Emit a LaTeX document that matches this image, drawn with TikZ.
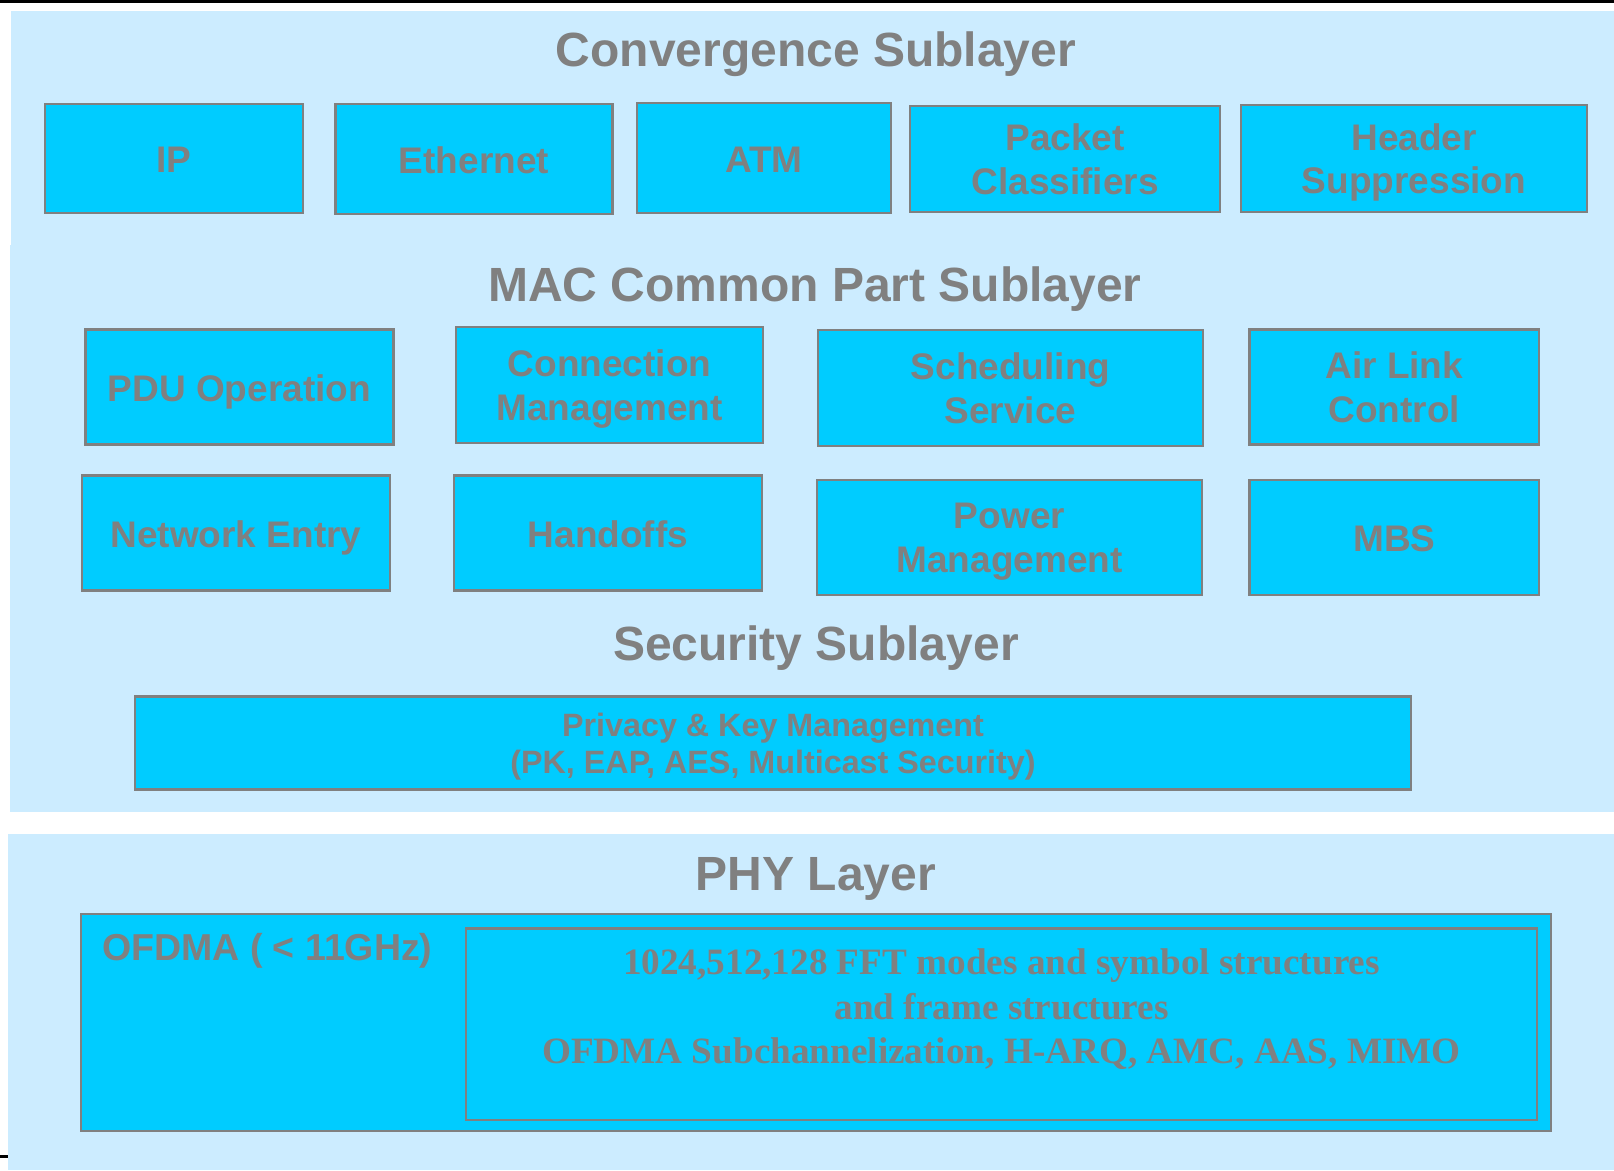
\documentclass[tikz,border=0pt]{standalone}
\usepackage{fontspec}
\setmainfont{Liberation Sans}
\newfontfamily\serifbold{Liberation Serif}
\definecolor{panel}{HTML}{CCECFF}
\definecolor{boxfill}{HTML}{00CCFF}
\definecolor{txtgray}{HTML}{808080}
\begin{document}
\begin{tikzpicture}[x=1pt,y=-1pt,
  box/.style={draw=txtgray, fill=boxfill, line width=2.5pt, inner sep=0pt},
  boxtext/.style={text=txtgray, inner sep=0pt, align=center, yshift=-1.2pt,
    font=\fontsize{37}{43.5}\selectfont\bfseries,
    execute at begin node={\rule{0pt}{33.5pt}},
    execute at end node={\rule[-7.8pt]{0pt}{7.8pt}}},
  boxtwo/.style={boxtext, yshift=-3pt},
  titletext/.style={text=txtgray, inner sep=0pt, font=\fontsize{48}{57}\selectfont\bfseries},
  sectext/.style={text=txtgray, inner sep=0pt, align=center, font=\fontsize{32.3}{37}\selectfont\bfseries},
  phytext/.style={text=txtgray, inner sep=0pt, align=center, font=\fontsize{37.2}{44.5}\selectfont\serifbold\bfseries}
]
\useasboundingbox (0,0) rectangle (1614,1170);
\fill[white] (0,0) rectangle (1614,1170);
% panels
\fill[panel] (11,11) rectangle (1614,245);
\fill[panel] (10,245) rectangle (1614,812);
\fill[panel] (8,834) rectangle (1614,1170);
% black rules
\draw[black, line width=3pt] (0,1.3) -- (1614,1.3);
\draw[black, line width=3pt] (0,1156.5) -- (8,1156.5);

% titles
\node[titletext] (tconv) at (816,54) {Convergence Sublayer};
\node[titletext] (tmac) at (815,289) {MAC Common Part Sublayer};
\node[titletext] (tsec) at (816,648) {Security Sublayer};
\node[titletext] (tphy) at (816,879) {PHY Layer};

% convergence boxes
\node[box, minimum width=258, minimum height=109, label={[boxtext]center:IP}] (ip) at (174,158.5) {};
\node[box, minimum width=277, minimum height=110, label={[boxtext]center:Ethernet}] (eth) at (474,159) {};
\node[box, minimum width=254, minimum height=110, label={[boxtext]center:ATM}] (atm) at (764,158) {};
\node[box, minimum width=310, minimum height=106, label={[boxtwo]center:{Packet\\Classifiers}}] (pc) at (1065,159) {};
\node[box, minimum width=346, minimum height=107, label={[boxtwo]center:{Header\\Suppression}}] (hs) at (1414,158.5) {};

% MAC boxes
\node[box, minimum width=308, minimum height=115, label={[boxtext]center:PDU Operation}] (pdu) at (239.3,387) {};
\node[box, minimum width=307, minimum height=115.6, label={[boxtwo]center:{Connection\\Management}}] (cm) at (609.5,385) {};
\node[box, minimum width=385, minimum height=115.7, label={[boxtwo]center:{Scheduling\\Service}}] (ss) at (1010.5,388) {};
\node[box, minimum width=289.4, minimum height=115.3, label={[boxtwo]center:{Air Link\\Control}}] (alc) at (1394.3,387) {};
\node[box, minimum width=308, minimum height=115, label={[boxtext]center:Network Entry}] (ne) at (236,533) {};
\node[box, minimum width=307.7, minimum height=115, label={[boxtext]center:Handoffs}] (ho) at (608,533) {};
\node[box, minimum width=385, minimum height=115, label={[boxtwo]center:{Power\\Management}}] (pm) at (1009.5,537.4) {};
\node[box, minimum width=289.4, minimum height=115, label={[boxtext]center:MBS}] (mbs) at (1394.3,537.4) {};

% security box
\node[box, minimum width=1276, minimum height=93] (sec) at (773,743) {};
\node[sectext] (sect) at (773,747) {Privacy \& Key Management\\(PK, EAP, AES, Multicast Security)};

% PHY boxes
\node[box, minimum width=1470, minimum height=217] (phyo) at (816,1022.5) {};
\node[box, minimum width=1071, minimum height=191.5] (phyi) at (1001.5,1024) {};
\node[text=txtgray, inner sep=0pt, anchor=west, font=\fontsize{37.5}{44}\selectfont\bfseries] (ofdma) at (102,951) {OFDMA ( < 11GHz)};
\node[phytext] (phyt) at (1001.5,1009.5) {1024,512,128 FFT modes and symbol structures\\and frame structures\\OFDMA Subchannelization, H-ARQ, AMC, AAS, MIMO};
\end{tikzpicture}
\end{document}
